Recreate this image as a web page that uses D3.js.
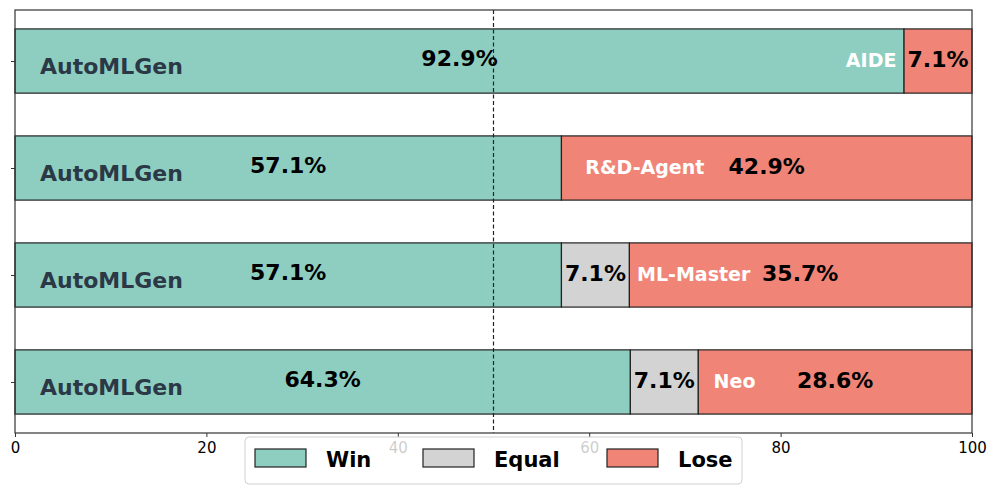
<!DOCTYPE html>
<html><head><meta charset="utf-8">
<script src="https://cdn.jsdelivr.net/npm/d3@7"></script>
<style>body{margin:0;background:#fff}svg{display:block}</style>
</head><body><svg id="c" width="997" height="497"></svg>
<script>
const opponents = ["AIDE", "R&D-Agent", "ML-Master", "Neo"];
const ourName = "AutoMLGen";
const winVals = [92.9, 57.1, 57.1, 64.3];
const equalVals = [0, 0, 7.1, 7.1];
const loseVals = [7.1, 42.9, 35.7, 28.6];
const rowPos = [3, 2, 1, 0];
const nameAnchor = [92.1, 59.6, 65.0, 73.0];
const nameAlign = ["end", "start", "start", "start"];
const xTicks = [0, 20, 40, 60, 80, 100];
const legendLabels = ["Win", "Equal", "Lose"];
const colors = {Win: "#8ECEC1", Equal: "#D3D3D3", Lose: "#F08577"};

const svg = d3.select("#c");
const x = d3.scaleLinear().domain([0, 100]).range([15, 972]);
const y = d3.scaleLinear().domain([-0.477, 3.477]).range([433, 10]);
const bh = y(0) - y(0.6);
const font = "'DejaVu Sans', sans-serif";

const rows = opponents.map((o, i) => ({
  o, i, pos: rowPos[i], win: winVals[i], eq: equalVals[i], lose: loseVals[i]
}));

// bars
const segs = [];
rows.forEach(r => {
  segs.push({r, key: "Win", x0: 0, x1: r.win});
  if (r.eq > 0) segs.push({r, key: "Equal", x0: r.win, x1: r.win + r.eq});
  segs.push({r, key: "Lose", x0: r.win + r.eq, x1: 100});
});
svg.append("g").selectAll("rect").data(segs).join("rect")
  .attr("x", d => x(d.x0)).attr("width", d => x(d.x1) - x(d.x0))
  .attr("y", d => y(d.r.pos + 0.3)).attr("height", bh)
  .attr("fill", d => colors[d.key]).attr("stroke", "#222").attr("stroke-width", 1.2);

// dashed line at 50
svg.append("line").attr("x1", x(50)).attr("x2", x(50)).attr("y1", y.range()[1]).attr("y2", y.range()[0])
  .attr("stroke", "#222").attr("stroke-width", 1.2).attr("stroke-dasharray", "4,2.5");

// axes
const gx = svg.append("g").attr("transform", `translate(0,${y.range()[0]})`)
  .call(d3.axisBottom(x).tickValues(xTicks).tickSize(4).tickPadding(5));
gx.select(".domain").remove();
gx.selectAll("text").attr("font-family", font).attr("font-size", 15).attr("fill", "#000");
gx.selectAll("line").attr("stroke", "#333");
const gy = svg.append("g").attr("transform", `translate(${x.range()[0]},0)`)
  .call(d3.axisLeft(y).tickValues(rowPos).tickSize(4).tickFormat(""));
gy.select(".domain").remove();
gy.selectAll("line").attr("stroke", "#333");

// frame
svg.append("rect").attr("x", x.range()[0]).attr("y", y.range()[1])
  .attr("width", x.range()[1] - x.range()[0]).attr("height", y.range()[0] - y.range()[1])
  .attr("fill", "none").attr("stroke", "#333").attr("stroke-width", 1.2);

// labels
const lab = svg.append("g").attr("font-family", font).attr("font-weight", "bold");
rows.forEach(r => {
  const cy = y(r.pos);
  lab.append("text").attr("x", 40).attr("y", cy + 13).attr("font-size", 22)
    .attr("fill", "#2B3846").text(ourName);
  lab.append("text").attr("x", x(r.win / 2)).attr("y", cy + 5).attr("font-size", 22)
    .attr("text-anchor", "middle").attr("fill", "#000").text(r.win.toFixed(1) + "%");
  if (r.eq > 0)
    lab.append("text").attr("x", x(r.win + r.eq / 2)).attr("y", cy + 6).attr("font-size", 22)
      .attr("text-anchor", "middle").attr("fill", "#000").text(r.eq.toFixed(1) + "%");
  lab.append("text").attr("x", x(r.win + r.eq + r.lose / 2)).attr("y", cy + 6).attr("font-size", 22)
    .attr("text-anchor", "middle").attr("fill", "#000").text(r.lose.toFixed(1) + "%");
  lab.append("text").attr("x", x(nameAnchor[r.i])).attr("y", cy + 6).attr("font-size", 19)
    .attr("text-anchor", nameAlign[r.i]).attr("fill", "#fff").text(r.o);
});

// legend
const lg = svg.append("g");
lg.append("rect").attr("x", 245).attr("y", 437).attr("width", 497).attr("height", 47)
  .attr("rx", 4).attr("fill", "#fff").attr("fill-opacity", 0.8).attr("stroke", "#d0d0d0");
const legX = [255, 423, 607];
legendLabels.forEach((k, i) => {
  lg.append("rect").attr("x", legX[i]).attr("y", 449).attr("width", 51).attr("height", 18)
    .attr("fill", colors[k]).attr("stroke", "#222").attr("stroke-width", 1.2);
  lg.append("text").attr("x", legX[i] + 71).attr("y", 467).attr("font-family", font)
    .attr("font-weight", "bold").attr("font-size", 21).attr("fill", "#000").text(k);
});
</script></body></html>
